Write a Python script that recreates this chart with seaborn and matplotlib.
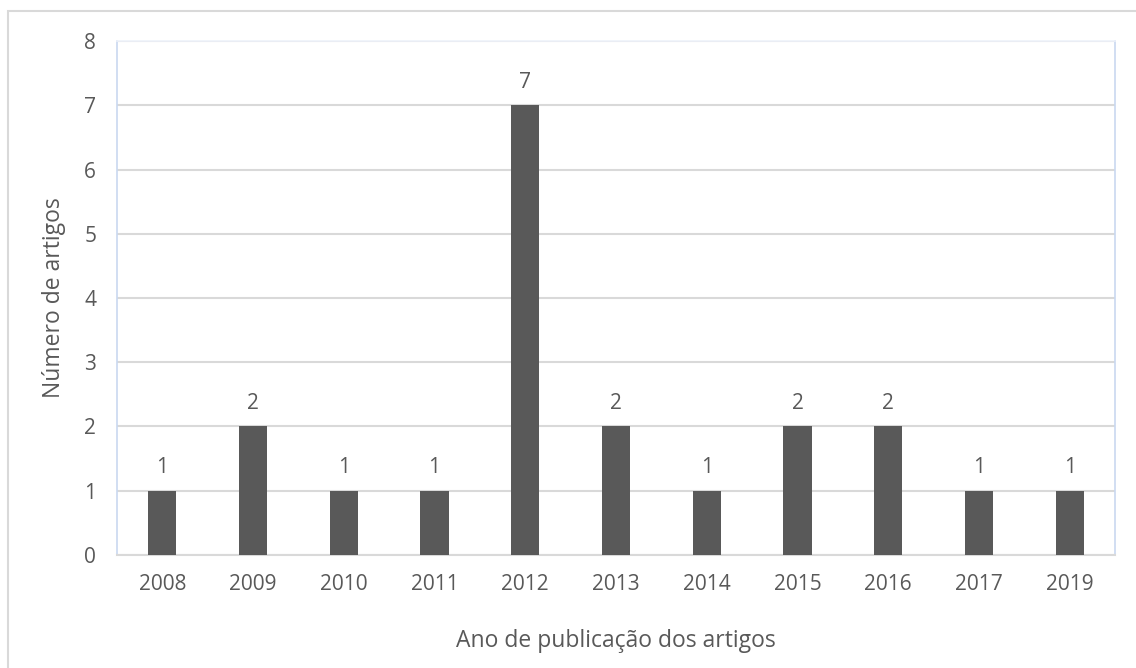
import matplotlib
matplotlib.use("Agg")
import matplotlib.pyplot as plt
from matplotlib.patches import Rectangle
import seaborn as sns
import pandas as pd

years = ["2008", "2009", "2010", "2011", "2012", "2013", "2014", "2015", "2016", "2017", "2019"]
counts = [1, 2, 1, 1, 7, 2, 1, 2, 2, 1, 1]
y_ticks = [0, 1, 2, 3, 4, 5, 6, 7, 8]

sns.set_theme(style="white")
plt.rcParams["font.family"] = ["Open Sans", "DejaVu Sans"]

text_color = "#595959"
bar_color = "#595959"
grid_color = "#d9d9d9"

df = pd.DataFrame({"ano": years, "artigos": counts})

fig = plt.figure(figsize=(11.36, 6.68), dpi=100)
ax = fig.add_axes([0.103, 0.1692, 0.8785, 0.7694])

sns.barplot(data=df, x="ano", y="artigos", color=bar_color, width=0.31,
            saturation=1, linewidth=0, ax=ax, zorder=3)

ax.set_ylim(0, 8)
ax.set_yticks(y_ticks)
ax.yaxis.grid(True, color=grid_color, linewidth=1.5, zorder=0)
ax.xaxis.grid(False)

for side in ["left", "right"]:
    ax.spines[side].set_color("#c9d8f0")
    ax.spines[side].set_linewidth(1.2)
ax.spines["top"].set_color("#eef2fa")
ax.spines["top"].set_linewidth(1.2)
ax.spines["bottom"].set_color(grid_color)
ax.spines["bottom"].set_linewidth(1.5)

ax.tick_params(axis="both", length=0, labelsize=15, colors=text_color)
ax.tick_params(axis="y", pad=15)
ax.tick_params(axis="x", pad=14)

ax.set_xlabel("Ano de publicação dos artigos", fontsize=16.5, color=text_color, labelpad=24)
ax.set_ylabel("Número de artigos", fontsize=16.5, color=text_color, labelpad=13)

for container in ax.containers:
    ax.bar_label(container, labels=[str(v) for v in counts], padding=9,
                 fontsize=15, color=text_color)

# chart-area frame
fig.patches.append(Rectangle((8 / 1136, -0.2), 1.2, (668 - 11) / 668 + 0.2,
                             transform=fig.transFigure, fill=False,
                             edgecolor=grid_color, linewidth=1.5, zorder=0))

fig.savefig("out.png", dpi=100, facecolor="white")
